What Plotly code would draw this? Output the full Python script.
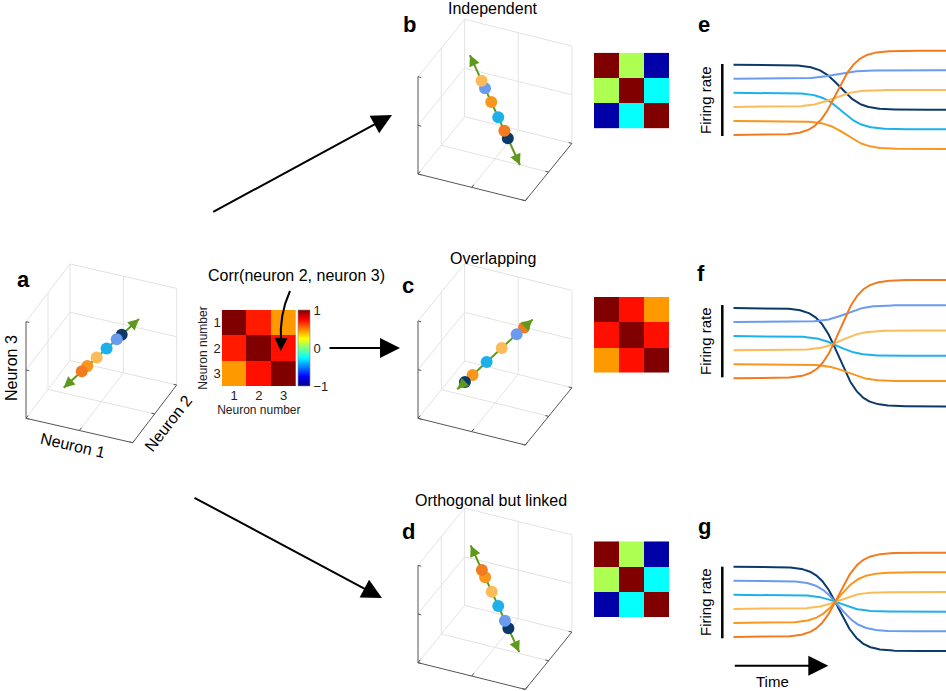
import numpy as np
import plotly.graph_objects as go

W, H = 946, 691
FONT = "Liberation Sans, Arial, Helvetica, sans-serif"

NAVY = "#0b3a6a"
LBLUE = "#6a9bef"
CYAN = "#1db1ea"
LORANGE = "#fbbb58"
ORANGE = "#f8961e"
DORANGE = "#f37b1f"
GREEN = "#5f991c"
GRID = "#e3e3e3"
AXC = "#555555"

# ---------------- data: population states in neuron space (neuron 1, 2, 3) ----------------
a_colors = [NAVY, LBLUE, CYAN, LORANGE, ORANGE, DORANGE]
a_n1 = [0.635, 0.602, 0.535, 0.469, 0.407, 0.370]
a_n2 = [0.635, 0.602, 0.535, 0.469, 0.407, 0.370]
a_n3 = [0.646, 0.610, 0.538, 0.467, 0.400, 0.360]
a_dir = ([0.25, 0.75], [0.25, 0.75], [0.23, 0.77])

b_colors = [NAVY, DORANGE, CYAN, ORANGE, LBLUE, LORANGE]
b_n1 = [0.672, 0.626, 0.544, 0.451, 0.367, 0.321]
b_n2 = [0.380, 0.412, 0.469, 0.534, 0.593, 0.625]
b_n3 = [0.328, 0.374, 0.456, 0.549, 0.633, 0.679]
b_dir = ([0.165, 0.835], [0.7345, 0.2655], [0.835, 0.165])

c_colors = [DORANGE, LBLUE, LORANGE, CYAN, ORANGE, NAVY]
c_n1 = [0.689, 0.641, 0.544, 0.446, 0.355, 0.305]
c_n2 = [0.689, 0.641, 0.544, 0.446, 0.355, 0.305]
c_n3 = [0.717, 0.662, 0.551, 0.438, 0.333, 0.276]
c_dir = ([0.255, 0.745], [0.255, 0.745], [0.218, 0.782])

d_colors = [NAVY, LBLUE, CYAN, LORANGE, ORANGE, DORANGE]
d_n1 = [0.680, 0.634, 0.544, 0.457, 0.369, 0.325]
d_n2 = [0.374, 0.406, 0.469, 0.530, 0.592, 0.6225]
d_n3 = [0.320, 0.366, 0.456, 0.543, 0.631, 0.675]
d_dir = ([0.175, 0.825], [0.7275, 0.2725], [0.825, 0.175])

# ---------------- data: correlation matrices ----------------
neurons = [1, 2, 3]
a_corr = [[1.0, 0.70, 0.45], [0.70, 1.0, 0.72], [0.45, 0.72, 1.0]]
b_corr = [[1.0, 0.09, -0.92], [0.09, 1.0, -0.24], [-0.92, -0.24, 1.0]]
c_corr = [[1.0, 0.72, 0.45], [0.72, 1.0, 0.72], [0.45, 0.72, 1.0]]
d_corr = [[1.0, 0.09, -0.92], [0.09, 1.0, -0.24], [-0.92, -0.24, 1.0]]

# ---------------- data: firing rates (order: navy, light blue, cyan, light orange, orange, dark orange) -----
rate_colors = [NAVY, LBLUE, CYAN, LORANGE, ORANGE, DORANGE]
rate_start = [6, 5, 4, 3, 2, 1]
e_end = [2.8, 5.6, 1.4, 4.2, 0.0, 7.0]
e_mid = [0.502, 0.478, 0.510, 0.469, 0.533, 0.486]
f_end = [-1.0, 6.2, 2.6, 4.4, 0.8, 8.0]
f_mid = [0.497, 0.530, 0.490, 0.509, 0.539, 0.502]
g_end = [0.0, 1.4, 2.8, 4.2, 5.6, 7.0]
g_mid = [0.496, 0.496, 0.496, 0.496, 0.496, 0.496]
trans_width = 0.049

jet = [[0, "#000080"], [0.125, "#0000ff"], [0.375, "#00ffff"],
       [0.625, "#ffff00"], [0.875, "#ff0000"], [1, "#800000"]]

fig = go.Figure()


def pxd(x0, x1):
    return [x0 / W, x1 / W]


def pyd(y0, y1):
    return [1 - y1 / H, 1 - y0 / H]


# ---------------- cubes (orthographic projection of neuron space) ----------------
CUBES = {
    "a": dict(O=(26, 418.3), ex=(106.7, 24.4), ey=(44.0, -57.7), ez=(0, -96.6)),
    "b": dict(O=(418, 174.0), ex=(107.3, 26.7), ey=(46.6, -57.3), ez=(0, -97.3)),
    "c": dict(O=(418, 418.3), ex=(107.3, 26.7), ey=(46.6, -57.3), ez=(0, -97.3)),
    "d": dict(O=(418, 662.7), ex=(107.3, 26.7), ey=(46.6, -57.3), ez=(0, -97.3)),
}


def projector(c):
    O, ex, ey, ez = c["O"], c["ex"], c["ey"], c["ez"]

    def P(n1, n2, n3):
        n1, n2, n3 = np.asarray(n1, float), np.asarray(n2, float), np.asarray(n3, float)
        return (O[0] + n1 * ex[0] + n2 * ey[0] + n3 * ez[0],
                O[1] + n1 * ex[1] + n2 * ey[1] + n3 * ez[1])
    return P


def segs_to_xy(P, segs):
    xs, ys = [], []
    for s in segs:
        (a1, a2, a3), (b1, b2, b3) = s
        x, y = P([a1, b1], [a2, b2], [a3, b3])
        xs += list(x) + [None]
        ys += list(y) + [None]
    return xs, ys


def add_cube(key, n1, n2, n3, colors, direc):
    P = projector(CUBES[key])
    light = [
        # floor
        ((0.5, 0, 0), (0.5, 1, 0)), ((0, 0.5, 0), (1, 0.5, 0)),
        ((0, 0, 0), (0, 1, 0)), ((0, 1, 0), (1, 1, 0)),
        # wall n1 = 0
        ((0, 0.5, 0), (0, 0.5, 1)), ((0, 0, 0.5), (0, 1, 0.5)),
        ((0, 0, 1), (0, 1, 1)), ((0, 1, 0), (0, 1, 1)),
        # wall n2 = 1
        ((0.5, 1, 0), (0.5, 1, 1)), ((0, 1, 0.5), (1, 1, 0.5)),
        ((0, 1, 1), (1, 1, 1)), ((1, 1, 0), (1, 1, 1)),
    ]
    xs, ys = segs_to_xy(P, light)
    fig.add_trace(go.Scatter(x=xs, y=ys, mode="lines", line=dict(color=GRID, width=1),
                             hoverinfo="skip", showlegend=False))
    dark = [((0, 0, 0), (1, 0, 0)), ((1, 0, 0), (1, 1, 0)), ((0, 0, 0), (0, 0, 1))]
    tk = 0.03
    for v in (0, 0.5, 1):
        dark.append(((v, 0, 0), (v, tk * 1.6, 0)))
        dark.append(((1, v, 0), (1 - tk, v, 0)))
        dark.append(((0, 0, v), (tk, 0, v)))
    xs, ys = segs_to_xy(P, dark)
    fig.add_trace(go.Scatter(x=xs, y=ys, mode="lines", line=dict(color=AXC, width=1),
                             hoverinfo="skip", showlegend=False))
    # green axis of variation
    ax_x, ax_y = P(*direc)
    fig.add_trace(go.Scatter(x=ax_x, y=ax_y, mode="lines", line=dict(color=GREEN, width=2),
                             hoverinfo="skip", showlegend=False))
    for i, j in ((0, 1), (1, 0)):
        tipx, tipy = ax_x[i], ax_y[i]
        dx, dy = ax_x[j] - tipx, ax_y[j] - tipy
        L = np.hypot(dx, dy)
        fig.add_annotation(x=tipx, y=tipy, ax=tipx + dx / L * 9, ay=tipy + dy / L * 9,
                           xref="x", yref="y", axref="x", ayref="y", text="",
                           showarrow=True, arrowhead=2, arrowsize=1.1, arrowwidth=2,
                           arrowcolor=GREEN, standoff=0)
    px_, py_ = P(n1, n2, n3)
    fig.add_trace(go.Scatter(x=px_, y=py_, mode="markers",
                             marker=dict(size=12, color=colors, line=dict(width=0)),
                             hoverinfo="skip", showlegend=False))


add_cube("a", a_n1, a_n2, a_n3, a_colors, a_dir)
add_cube("b", b_n1, b_n2, b_n3, b_colors, b_dir)
add_cube("c", c_n1, c_n2, c_n3, c_colors, c_dir)
add_cube("d", d_n1, d_n2, d_n3, d_colors, d_dir)

# ---------------- heatmaps ----------------
HM = [
    ("5", a_corr, (221.7, 296.0, 310.0, 386.0), True),
    ("6", b_corr, (594.0, 669.3, 52.7, 128.3), False),
    ("7", c_corr, (594.0, 669.3, 297.0, 372.6), False),
    ("8", d_corr, (594.0, 669.3, 541.3, 616.9), False),
]
layout_axes = {}
for n, z, (x0, x1, y0, y1), full in HM:
    tr = dict(z=z, x=neurons, y=neurons, colorscale=jet, zmin=-1, zmax=1,
              xaxis="x" + n, yaxis="y" + n, hoverinfo="skip", showscale=full)
    if full:
        tr["colorbar"] = dict(x=298.3 / W, xanchor="left", y=1 - 348 / H, yanchor="middle",
                              lenmode="pixels", len=76, thickness=12.4, xpad=0, ypad=0,
                              outlinewidth=0.6, outlinecolor="#888888",
                              tickvals=[-1, 0, 1], ticks="", ticklabelposition="outside",
                              tickfont=dict(size=13, color="#222222", family=FONT))
    fig.add_trace(go.Heatmap(**tr))
    layout_axes["xaxis" + n] = dict(domain=pxd(x0, x1), anchor="y" + n, showgrid=False,
                                    zeroline=False, showline=False, ticks="",
                                    showticklabels=full, tickvals=neurons,
                                    tickfont=dict(size=13, color="#222222", family=FONT),
                                    title=dict(text="Neuron number" if full else "",
                                               standoff=0,
                                               font=dict(size=12, color="#222222", family=FONT)))
    layout_axes["yaxis" + n] = dict(domain=pyd(y0, y1), anchor="x" + n, showgrid=False,
                                    zeroline=False, showline=False, ticks="",
                                    autorange="reversed",
                                    showticklabels=full, tickvals=neurons,
                                    tickfont=dict(size=13, color="#222222", family=FONT),
                                    title=dict(text="Neuron number" if full else "",
                                               standoff=3,
                                               font=dict(size=12, color="#222222", family=FONT)))

# ---------------- firing rates ----------------
t = np.linspace(0, 1, 300)
RP = [("2", e_end, e_mid, 135.0), ("3", f_end, f_mid, 378.3), ("4", g_end, g_mid, 637.0)]
unit = 14.06
for n, ends, mids, base in RP:
    for s, e, m, col in zip(rate_start, ends, mids, rate_colors):
        p = 1 / (1 + np.exp(-(t - m) / trans_width))
        fig.add_trace(go.Scatter(x=t, y=s + (e - s) * p, mode="lines",
                                 line=dict(color=col, width=2), xaxis="x" + n, yaxis="y" + n,
                                 hoverinfo="skip", showlegend=False))
    ylo, yhi = -1.5, 8.5
    layout_axes["xaxis" + n] = dict(domain=pxd(733.3, 946), range=[0, 1], anchor="y" + n,
                                    visible=False)
    layout_axes["yaxis" + n] = dict(domain=pyd(base - (yhi - 1) * unit, base - (ylo - 1) * unit),
                                    range=[ylo, yhi], anchor="x" + n, visible=False)

# ---------------- layout ----------------
fig.update_layout(
    width=W, height=H, margin=dict(l=0, r=0, t=0, b=0),
    paper_bgcolor="white", plot_bgcolor="rgba(0,0,0,0)",
    font=dict(family=FONT, color="black"),
    xaxis=dict(domain=[0, 1], range=[0, W], visible=False, fixedrange=True),
    yaxis=dict(domain=[0, 1], range=[H, 0], visible=False, fixedrange=True),
    showlegend=False,
    **layout_axes,
)


def txt(x, y, s, size=15, bold=False, angle=0, color="black"):
    fig.add_annotation(x=x, y=y, xref="x", yref="y", text=("<b>%s</b>" % s) if bold else s,
                       showarrow=False, textangle=angle, xanchor="center", yanchor="middle",
                       font=dict(size=size, color=color, family=FONT))


for L, x, y in (("a", 23, 279), ("b", 409, 24), ("c", 408, 285), ("d", 408, 531),
                ("e", 704, 24), ("f", 701, 273), ("g", 704, 526)):
    txt(x, y, L, size=22, bold=True)

txt(493, 8.5, "Independent", 16)
txt(493, 258.5, "Overlapping", 16)
txt(491, 500, "Orthogonal but linked", 16)
txt(296, 275, "Corr(neuron 2, neuron 3)", 16)
txt(73, 445, "Neuron 1", 16, angle=13)
txt(168, 423, "Neuron 2", 16, angle=-52)
txt(11, 368, "Neuron 3", 16, angle=-90)
for yc in (100, 341, 602):
    txt(705, yc, "Firing rate", 15, angle=-90)
txt(772, 681, "Time", 15)

# scale bars
for y0, y1 in ((64, 136), (305, 377.3), (566.7, 638.3)):
    fig.add_shape(type="line", xref="x", yref="y", x0=722.3, x1=722.3, y0=y0, y1=y1,
                  line=dict(color="black", width=2.5))


def arrow(x0, y0, x1, y1, width=2, size=2.0):
    fig.add_annotation(x=x1, y=y1, ax=x0, ay=y0, xref="x", yref="y", axref="x", ayref="y",
                       text="", showarrow=True, arrowhead=2, arrowsize=size,
                       arrowwidth=width, arrowcolor="black", standoff=0)


arrow(211.7, 212.7, 392, 115)
arrow(328, 348, 400, 348)
arrow(193, 497, 382, 598)
arrow(733.3, 665.7, 828.3, 665.7)

# curved pointer to Corr(neuron 2, neuron 3)
fig.add_shape(type="path", xref="x", yref="y", path="M 290,291 Q 279,315 281,343",
              line=dict(color="black", width=2))
arrow(281, 340, 280.7, 351, width=2, size=1.3)

fig.write_html("out.html", config={"displayModeBar": False, "staticPlot": True},
               post_script="document.body.style.margin='0';document.body.style.padding='0';")
